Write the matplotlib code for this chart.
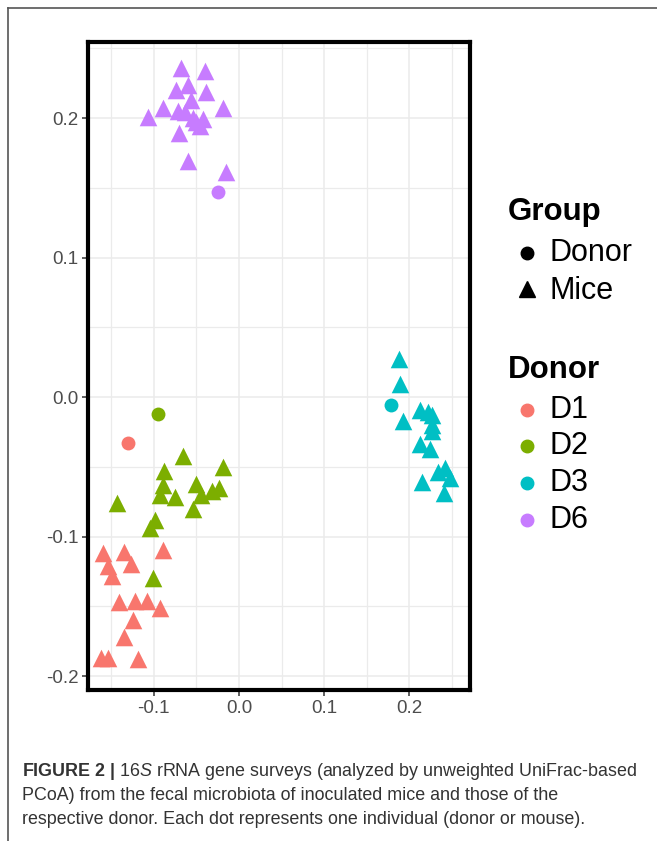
import numpy as np
import matplotlib.pyplot as plt
from matplotlib.lines import Line2D

plt.rcParams['font.family'] = ['Liberation Sans', 'DejaVu Sans']
plt.rcParams['mathtext.fontset'] = 'custom'
plt.rcParams['mathtext.rm'] = 'Liberation Sans'
plt.rcParams['mathtext.it'] = 'Liberation Sans:italic'
plt.rcParams['mathtext.bf'] = 'Liberation Sans:bold'

# PCoA coordinates
d1_mice_x = [-0.159, -0.135, -0.154, -0.127, -0.149, -0.089, -0.141, -0.122,
             -0.108, -0.093, -0.124, -0.135, -0.162, -0.154, -0.118]
d1_mice_y = [-0.112, -0.111, -0.121, -0.120, -0.128, -0.110, -0.147, -0.146,
             -0.146, -0.151, -0.160, -0.172, -0.187, -0.187, -0.188]
d1_donor = (-0.130, -0.033)

d2_mice_x = [-0.066, -0.019, -0.088, -0.089, -0.093, -0.075, -0.050, -0.045,
             -0.032, -0.023, -0.054, -0.143, -0.099, -0.104, -0.101]
d2_mice_y = [-0.042, -0.050, -0.053, -0.063, -0.070, -0.072, -0.062, -0.070,
             -0.067, -0.065, -0.080, -0.076, -0.088, -0.094, -0.130]
d2_donor = (-0.095, -0.012)

d3_mice_x = [0.188, 0.189, 0.192, 0.212, 0.222, 0.226, 0.227, 0.227, 0.212,
             0.224, 0.215, 0.242, 0.247, 0.240, 0.233]
d3_mice_y = [0.027, 0.009, -0.017, -0.009, -0.011, -0.013, -0.020, -0.024,
             -0.034, -0.037, -0.061, -0.051, -0.058, -0.069, -0.054]
d3_donor = (0.178, -0.006)

d6_mice_x = [-0.068, -0.040, -0.074, -0.060, -0.039, -0.107, -0.089, -0.072,
             -0.056, -0.019, -0.070, -0.050, -0.046, -0.060, -0.015, -0.063,
             -0.054, -0.042]
d6_mice_y = [0.236, 0.234, 0.220, 0.224, 0.219, 0.201, 0.207, 0.205, 0.213,
             0.207, 0.189, 0.197, 0.194, 0.169, 0.161, 0.204, 0.200, 0.199]
d6_donor = (-0.025, 0.147)

donors = ['D1', 'D2', 'D3', 'D6']
colors = ['#F8766D', '#7CAE00', '#00BFC4', '#C77CFF']
mice = [(d1_mice_x, d1_mice_y), (d2_mice_x, d2_mice_y),
        (d3_mice_x, d3_mice_y), (d6_mice_x, d6_mice_y)]
donor_pts = [d1_donor, d2_donor, d3_donor, d6_donor]

fig = plt.figure(figsize=(6.57, 8.41), dpi=100)
ax = fig.add_axes([88 / 657, 1 - 690 / 841, 382 / 657, 648 / 841])

for (mx, my), dp, col in zip(mice, donor_pts, colors):
    ax.scatter(mx, my, marker='^', s=160, color=col, linewidths=0, zorder=3)
    ax.scatter([dp[0]], [dp[1]], marker='o', s=100, color=col, linewidths=0, zorder=3)

ax.set_xlim(-0.177, 0.271)
ax.set_ylim(-0.21, 0.2545)
ax.set_xticks([-0.1, 0.0, 0.1, 0.2])
ax.set_yticks([-0.2, -0.1, 0.0, 0.1, 0.2])
ax.set_xticks([-0.15, -0.05, 0.05, 0.15, 0.25], minor=True)
ax.set_yticks([-0.15, -0.05, 0.05, 0.15, 0.25], minor=True)
ax.set_xticklabels(['-0.1', '0.0', '0.1', '0.2'])
ax.set_yticklabels(['-0.2', '-0.1', '0.0', '0.1', '0.2'])
ax.grid(True, which='major', color='#EBEBEB', linewidth=1.1, zorder=0)
ax.grid(True, which='minor', color='#EBEBEB', linewidth=0.9, zorder=0)
ax.set_axisbelow(True)
ax.tick_params(which='major', length=4, width=1.1, color='#333333',
               labelsize=13.5, labelcolor='#4D4D4D', pad=3)
ax.tick_params(which='minor', length=0)
for sp in ax.spines.values():
    sp.set_linewidth(3)
    sp.set_color('black')

# legends
title_kw = dict(fontsize=22.5, fontweight='bold', va='center', ha='left', color='black')
item_kw = dict(fontsize=22, va='center', ha='left', color='black')

def fx(px):
    return px / 657

def fy(py):
    return 1 - py / 841

fig.text(fx(508), fy(212), 'Group', **title_kw)
fig.add_artist(Line2D([fx(527)], [fy(253)], marker='o', markersize=9,
                      color='black', linestyle='none'))
fig.text(fx(550), fy(253), 'Donor', **item_kw)
fig.add_artist(Line2D([fx(527)], [fy(289)], marker='^', markersize=11,
                      color='black', linestyle='none'))
fig.text(fx(550), fy(291), 'Mice', **item_kw)

fig.text(fx(508), fy(370), 'Donor', **title_kw)
for i, (name, col) in enumerate(zip(donors, colors)):
    yy = 410 + i * 36.5
    fig.add_artist(Line2D([fx(527)], [fy(yy)], marker='o', markersize=9,
                          color=col, linestyle='none'))
    fig.text(fx(550), fy(yy), name, **item_kw)

# caption
cap_lines = [
    r'$\mathbf{FIGURE\ 2\ |}$ 16$\mathit{S}$ rRNA gene surveys (analyzed by unweighted UniFrac-based',
    'PCoA) from the fecal microbiota of inoculated mice and those of the',
    'respective donor. Each dot represents one individual (donor or mouse).',
]
for i, line in enumerate(cap_lines):
    fig.text(fx(22), fy(771 + i * 24.5), line, fontsize=12.9, color='#333333',
             va='center', ha='left')

# outer frame of the figure panel
fig.add_artist(Line2D([fx(8), 1.0], [fy(8), fy(8)], color='#555555', linewidth=1.2))
fig.add_artist(Line2D([fx(8), fx(8)], [fy(8), 0.0], color='#555555', linewidth=1.2))

fig.savefig('out.png', dpi=100)
